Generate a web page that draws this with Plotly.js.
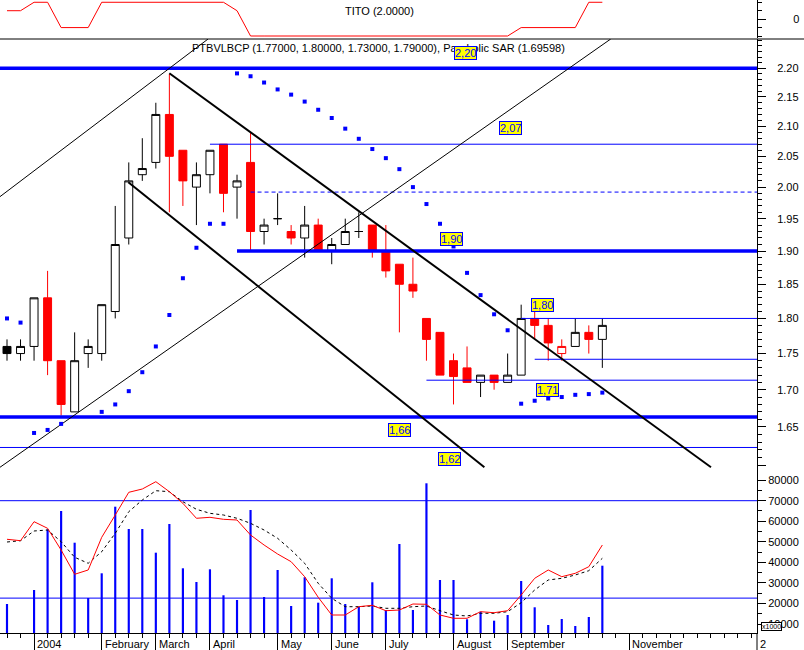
<!DOCTYPE html>
<html><head><meta charset="utf-8">
<script src="https://cdn.plot.ly/plotly-3.0.1.min.js"></script>
<style>html,body{margin:0;padding:0;background:#fff}#chart{width:804px;height:650px}</style>
</head><body><div id="chart"></div>
<script>
// ---------- DATA ----------
const week = [0,1,2,3,4,5,6,7,8,9,10,11,12,13,14,15,16,17,18,19,20,21,22,23,24,25,26,27,28,29,30,31,32,33,34,35,36,37,38,39,40,41,42,43,44];
const open  = [1.76,1.75,1.76,1.83,1.74,1.67,1.75,1.75,1.81,1.92,2.02,2.04,2.12,2.06,2.00,2.02,2.07,2.00,2.04,1.93,1.95,1.93,1.92,1.94,1.90,1.91,1.93,1.94,1.90,1.88,1.85,1.80,1.78,1.74,1.73,1.71,1.72,1.71,1.72,1.80,1.79,1.75,1.76,1.78,1.77];
const high  = [1.77,1.77,1.83,1.87,1.74,1.78,1.77,1.82,1.97,2.04,2.08,2.14,2.19,2.06,2.04,2.06,2.07,2.02,2.09,1.95,1.99,1.94,1.97,1.95,1.92,1.95,1.96,1.94,1.94,1.88,1.89,1.80,1.78,1.75,1.76,1.72,1.72,1.75,1.82,1.81,1.80,1.77,1.80,1.79,1.80];
const low   = [1.74,1.74,1.74,1.72,1.665,1.67,1.73,1.74,1.80,1.91,2.01,2.03,1.96,1.97,1.94,1.99,1.96,1.95,1.90,1.91,1.94,1.91,1.89,1.90,1.88,1.91,1.92,1.89,1.86,1.78,1.83,1.74,1.72,1.68,1.71,1.69,1.70,1.71,1.72,1.77,1.74,1.74,1.76,1.75,1.73];
const close = [1.75,1.76,1.83,1.74,1.68,1.74,1.76,1.82,1.91,2.01,2.03,2.12,2.05,2.01,2.02,2.06,1.99,2.01,1.93,1.94,1.95,1.92,1.94,1.90,1.91,1.93,1.93,1.90,1.87,1.85,1.84,1.77,1.72,1.718,1.71,1.72,1.71,1.72,1.80,1.79,1.765,1.76,1.78,1.77,1.79];
const sar = [1.800,1.794,1.642,1.646,1.654,null,null,1.670,1.680,1.698,1.724,1.760,1.805,1.859,1.905,1.942,1.942,2.191,2.186,2.175,2.163,2.154,2.142,2.128,2.114,2.096,2.079,2.062,2.047,2.029,2.000,1.973,1.942,1.907,1.867,1.834,1.806,1.783,1.681,1.685,1.688,1.690,1.693,1.694,1.696];
const volume = [19730,null,26550,56080,64990,49560,22650,34670,67080,56230,56230,44700,58660,37110,30440,36620,23970,21680,65470,23140,36280,18760,32730,20370,32240,19730,18420,30290,16810,48930,16810,78470,31410,31410,12290,15990,11610,14380,30930,18130,9520,12440,9030,13410,38370];
const volAvgFast = [51220,50540,59780,56570,46010,34190,36280,52190,63040,74090,75690,79250,74380,68730,61440,61920,60950,60610,53310,48440,44060,40320,33020,23000,14380,14380,18420,19100,16470,16810,19730,19590,14380,12780,12780,15990,15500,16470,24110,32240,36280,33020,34670,37880,48440];
const volAvgSlow = [49900,50540,55260,55740,50050,42460,39540,45180,54140,64650,70340,74870,74380,69510,65820,63870,63040,61440,59000,55740,51700,46010,39540,29810,22510,18420,18420,18760,17640,17640,18420,18760,16470,14380,13900,15210,15210,15990,20370,26550,31410,32240,33850,35940,41970];
const tito = [1,1,2,2,-1,-1,-1,2,2,2,2,2,2,2,2,2,2,1,-2,-2,-2,-2,-2,-2,-2,-2,-2,-2,-2,-2,-2,-2,-2,-2,-2,-2,-2,-2,-1,-1,-1,-1,-1,2,2];

// price levels (horizontal lines) and their labels
const levelValue = [2.20, 2.07, 1.992, 1.90, 1.80, 1.742, 1.713, 1.663, 1.623];
const levelStart = [-0.52, 15, 18, 17, 38, 39, 31, -0.52, -0.52];
const levelText  = ['2,20','2,07','','1,90','1,80','','1,71','1,66','1,62'];
const volumeLevels = [70000, 22600];

// trend lines: [week, price] end points
const trendWeek  = [[-0.52, 14.86], [12.0, 52.03], [8.965, 35.28], [-0.52, 44.62]];
const trendPrice = [[1.9847, 2.2523], [2.1912, 1.5974], [2.0077, 1.5974], [1.5974, 2.2523]];

// axis ticks
const monthTickWeek = [2,7,11,15,20,24,28,33,37,41,46,50];
const monthLabels = ['2004','February','March','April','May','June','July','August','September','','November',''];
const priceTicks = [1.60,1.65,1.70,1.75,1.80,1.85,1.90,1.95,2.00,2.05,2.10,2.15,2.20];
const priceTickLabels = ['','1.65','1.70','1.75','1.80','1.85','1.90','1.95','2.00','2.05','2.10','2.15','2.20'];
const volTicks = [10000,20000,30000,40000,50000,60000,70000,80000];
const volTickLabels = ['10000','20000','30000','40000','50000','60000','70000','80000'];
const mainTitle = 'PTBVLBCP (1.77000, 1.80000, 1.73000, 1.79000), Parabolic SAR (1.69598)';
const titoTitle = 'TITO (2.0000)';

// ---------- LAYOUT CONSTANTS ----------
const X0 = -0.517, X1 = 55.43;
const PH = 633; // plot height px
const RED = '#ff0000', BLUE = '#0000ff', BLACK = '#000000';
const FONT = '"Liberation Sans", Arial, sans-serif';

// label placement (week position, vertical offset px)
const labelWeek = [33.85, 37.2, 0, 32.85, 39.54, 0, 39.98, 29.02, 32.72];
const labelShift = [15.3, 16.2, 0, 12.2, 13.3, 0, -9.7, -13, -12];
const levelWidth = [3.5, 1, 1, 3.5, 1, 1, 1, 3.5, 1];
const levelDash = ['solid','solid','4px,3px','solid','solid','solid','solid','solid','solid'];
const trendWidth = [1, 2, 2, 1];

const traces = [];

// TITO
traces.push({type:'scatter', mode:'lines', x:week, y:tito, xaxis:'x', yaxis:'y2',
  line:{color:RED, width:1}, hoverinfo:'skip'});

// level lines
levelValue.forEach((v,k)=>{
  traces.push({type:'scatter', mode:'lines', x:[levelStart[k], X1], y:[v, v], xaxis:'x', yaxis:'y',
    line:{color:BLUE, width:levelWidth[k], dash:levelDash[k]}, hoverinfo:'skip'});
});

// candles grouped by drawing style
function isFilled(i){ return close[i] < open[i]; }
function isRed(i){ return i > 0 && close[i] < close[i-1]; }
function candles(pred, fill, col){
  const idx = week.filter(i => pred(i));
  const st = {line:{color:col, width:1}, fillcolor:fill};
  return {type:'candlestick', xaxis:'x', yaxis:'y',
    x: idx.map(i=>week[i]), open: idx.map(i=>open[i]), high: idx.map(i=>high[i]),
    low: idx.map(i=>low[i]), close: idx.map(i=>close[i]),
    increasing: st, decreasing: st, whiskerwidth:0, hoverinfo:'skip'};
}
traces.push(candles(i=>!isFilled(i)&&!isRed(i), '#ffffff', BLACK));
traces.push(candles(i=>!isFilled(i)&&isRed(i), '#ffffff', RED));
traces.push(candles(i=>isFilled(i)&&isRed(i), RED, RED));
traces.push(candles(i=>isFilled(i)&&!isRed(i), BLACK, BLACK));

// trend lines
trendWeek.forEach((tw,k)=>{
  traces.push({type:'scatter', mode:'lines', x:tw, y:trendPrice[k], xaxis:'x', yaxis:'y',
    line:{color:BLACK, width:trendWidth[k]}, hoverinfo:'skip'});
});

// Parabolic SAR
traces.push({type:'scatter', mode:'markers', x:week, y:sar, xaxis:'x', yaxis:'y',
  marker:{symbol:'square', size:4, color:BLUE, line:{width:0}}, hoverinfo:'skip'});

// volume levels
volumeLevels.forEach(v=>{
  traces.push({type:'scatter', mode:'lines', x:[X0, X1], y:[v, v], xaxis:'x', yaxis:'y3',
    line:{color:BLUE, width:1}, hoverinfo:'skip'});
});
// volume bars
traces.push({type:'bar', x:week, y:volume, xaxis:'x', yaxis:'y3', width:0.16,
  marker:{color:BLUE, line:{width:0}}, hoverinfo:'skip'});
// volume averages
traces.push({type:'scatter', mode:'lines', x:week, y:volAvgSlow, xaxis:'x', yaxis:'y3',
  line:{color:BLACK, width:1, dash:'3px,3px'}, hoverinfo:'skip'});
traces.push({type:'scatter', mode:'lines', x:week, y:volAvgFast, xaxis:'x', yaxis:'y3',
  line:{color:RED, width:1}, hoverinfo:'skip'});

// minor ticks
const priceMinor = [];
for (let c = 160; c <= 225; c++) if (c % 5 !== 0 || c === 225) priceMinor.push(c/100);
const volMinor = [15000,25000,35000,45000,55000,65000,75000];

const annotations = [];
annotations.push({xref:'paper', yref:'paper', x:378.3/757, y:(PH-48.3)/PH, text:mainTitle,
  showarrow:false, font:{family:FONT, size:11, color:BLACK}, xanchor:'center', yanchor:'middle'});
annotations.push({xref:'paper', yref:'paper', x:379/757, y:(PH-11)/PH, text:titoTitle,
  showarrow:false, font:{family:FONT, size:11, color:BLACK}, xanchor:'center', yanchor:'middle'});
levelText.forEach((t,k)=>{
  if (!t) return;
  annotations.push({xref:'x', yref:'y', x:labelWeek[k], y:Math.log10(levelValue[k]), yshift:labelShift[k],
    text:t, showarrow:false, bgcolor:'#ffff00', bordercolor:BLUE, borderwidth:1, borderpad:0,
    font:{family:FONT, size:11, color:BLUE}, xanchor:'center', yanchor:'middle'});
});
monthTickWeek.forEach((w,k)=>{
  if (!monthLabels[k]) return;
  annotations.push({xref:'x', yref:'paper', x:w, y:0, xanchor:'left', yanchor:'middle', xshift:1, yshift:-11,
    text:monthLabels[k], showarrow:false, font:{family:FONT, size:11, color:BLACK}});
});
annotations.push({xref:'paper', yref:'paper', x:1, y:0, xanchor:'left', yanchor:'middle', xshift:1, yshift:-11,
  text:'2', showarrow:false, font:{family:FONT, size:11, color:BLACK}});
annotations.push({xref:'paper', yref:'paper', x:772/757, y:(PH-626)/PH, xanchor:'center', yanchor:'middle',
  text:'x1000', showarrow:false, bgcolor:'#ffffff', bordercolor:BLACK, borderwidth:1, borderpad:0,
  font:{family:FONT, size:7, color:BLACK}});

const axisCommon = {showgrid:false, zeroline:false, showline:true, linecolor:BLACK, linewidth:1,
  ticks:'outside', tickcolor:BLACK, tickwidth:1, fixedrange:true,
  tickfont:{family:FONT, size:11, color:BLACK}};

const layout = {
  width:804, height:650,
  margin:{l:0, r:47, t:0, b:17, pad:0},
  paper_bgcolor:'#ffffff', plot_bgcolor:'#ffffff',
  showlegend:false, boxgap:0.16,
  font:{family:FONT, size:11, color:BLACK},
  xaxis: Object.assign({}, axisCommon, {range:[X0, X1], anchor:'y3', tickmode:'array',
    tickvals:monthTickWeek, ticktext:monthLabels, showticklabels:false, ticklen:16,
    minor:{tickmode:'linear', tick0:0, dtick:1, ticks:'outside', ticklen:4, tickcolor:BLACK, tickwidth:1, showgrid:false},
    rangeslider:{visible:false}}),
  yaxis: Object.assign({}, axisCommon, {domain:[(PH-473)/PH, (PH-39)/PH], type:'log',
    range:[Math.log10(1.5901), Math.log10(2.2523)], side:'right', anchor:'x',
    tickmode:'array', tickvals:priceTicks, ticktext:priceTickLabels, ticklen:8, ticklabelstandoff:9,
    minor:{tickmode:'array', tickvals:priceMinor, ticks:'outside', ticklen:4, tickcolor:BLACK, tickwidth:1, showgrid:false}}),
  yaxis2: Object.assign({}, axisCommon, {domain:[(PH-38)/PH, 1], range:[-2.236, 2.27], side:'right', anchor:'x',
    tickmode:'array', tickvals:[0], ticktext:['0'], ticklen:8, ticklabelstandoff:25,
    minor:{tickmode:'array', tickvals:[-2,-1,1,2], ticks:'outside', ticklen:4, tickcolor:BLACK, tickwidth:1, showgrid:false}}),
  yaxis3: Object.assign({}, axisCommon, {domain:[0, (PH-473)/PH], range:[5620, 83480], side:'right', anchor:'x',
    tickmode:'array', tickvals:volTicks, ticktext:volTickLabels, ticklen:8, ticklabelstandoff:0,
    minor:{tickmode:'array', tickvals:volMinor, ticks:'outside', ticklen:4, tickcolor:BLACK, tickwidth:1, showgrid:false}}),
  shapes:[
    {type:'line', xref:'paper', yref:'paper', x0:0, x1:804/757, y0:(PH-39)/PH, y1:(PH-39)/PH, line:{color:BLACK, width:1}},
    {type:'line', xref:'paper', yref:'paper', x0:1, x1:1, y0:0, y1:-17/PH, line:{color:BLACK, width:1}}
  ],
  annotations: annotations
};

Plotly.newPlot('chart', traces, layout, {staticPlot:true, displayModeBar:false});
</script></body></html>
